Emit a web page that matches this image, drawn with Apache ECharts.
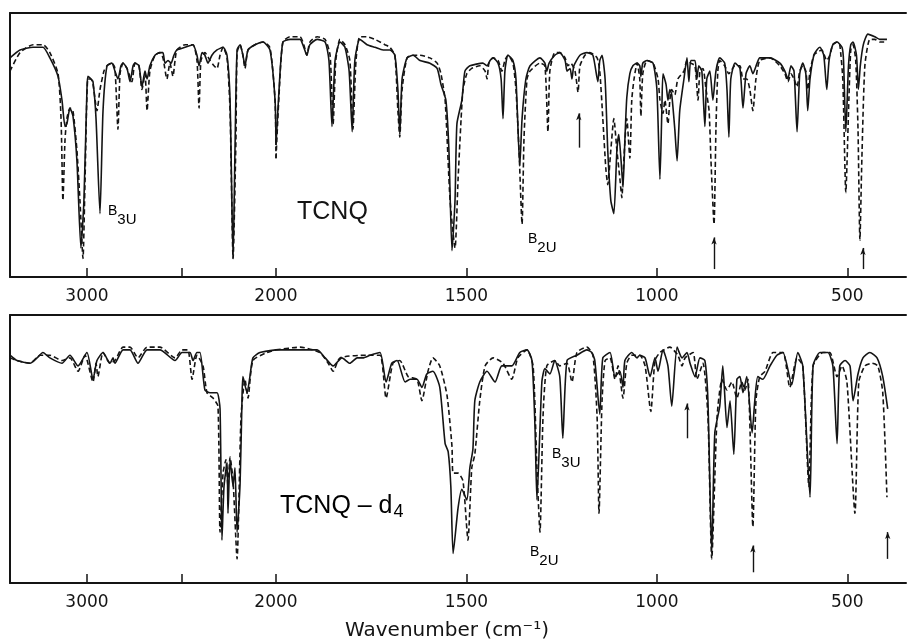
<!DOCTYPE html>
<html><head><meta charset="utf-8">
<script src="https://cdn.jsdelivr.net/npm/echarts@6/dist/echarts.min.js"></script>
<style>html,body{margin:0;padding:0;background:#fff}#c{width:908px;height:640px}</style>
</head><body><div id="c"></div>
<script>
// Wavenumber (cm-1), relative transmittance (% of frame height)
const tcnqSolid = [[3407,83],[3354,86],[3285,87],[3233,87],[3196,83],[3153,76],[3132,67],[3116,57],[3106,58],[3090,64],[3074,61],[3053,44],[3032,11],[3016,29],[3000,71],[2995,76],[2979,75],[2968,74],[2952,60],[2931,24],[2915,63],[2894,80],[2868,81],[2852,78],[2836,75],[2820,80],[2809,81],[2788,79],[2772,74],[2756,80],[2746,81],[2725,80],[2709,72],[2693,78],[2682,75],[2667,80],[2640,84],[2614,85],[2598,85],[2587,81],[2571,82],[2555,81],[2540,84],[2524,86],[2481,87],[2439,88],[2418,84],[2407,80],[2391,85],[2376,84],[2360,81],[2339,84],[2312,86],[2280,87],[2259,84],[2243,67],[2227,7],[2217,48],[2206,86],[2190,88],[2175,84],[2164,80],[2148,86],[2111,88],[2069,89],[2032,86],[2005,67],[2000,50],[1992,71],[1982,89],[1963,90],[1937,90],[1927,87],[1919,84],[1911,88],[1892,90],[1871,89],[1861,82],[1853,57],[1845,82],[1832,89],[1819,87],[1808,78],[1800,55],[1793,82],[1780,90],[1761,88],[1740,87],[1719,86],[1701,86],[1688,84],[1680,71],[1675,54],[1669,75],[1656,83],[1640,84],[1622,82],[1596,81],[1577,79],[1567,73],[1554,67],[1546,48],[1538,10],[1530,29],[1525,58],[1512,67],[1504,78],[1491,80],[1457,81],[1446,80],[1438,82],[1430,83],[1417,81],[1409,75],[1404,60],[1399,78],[1391,84],[1378,82],[1370,75],[1360,42],[1354,60],[1344,75],[1333,80],[1307,83],[1294,81],[1289,78],[1283,81],[1268,84],[1255,85],[1241,82],[1236,78],[1228,79],[1223,75],[1218,80],[1202,84],[1184,85],[1168,84],[1155,74],[1150,82],[1144,84],[1136,75],[1129,48],[1121,29],[1113,24],[1105,48],[1100,54],[1094,44],[1089,34],[1084,52],[1079,68],[1071,77],[1063,80],[1052,81],[1045,80],[1042,76],[1037,81],[1026,82],[1010,81],[1000,71],[992,37],[987,63],[984,77],[976,73],[971,67],[966,71],[961,69],[953,56],[947,44],[940,63],[929,75],[921,83],[916,74],[911,82],[900,82],[895,75],[890,80],[882,78],[874,57],[869,75],[861,78],[853,67],[845,78],[835,83],[822,81],[816,71],[811,53],[806,75],[795,81],[782,79],[774,64],[766,77],[756,80],[748,77],[737,81],[730,83],[703,83],[677,81],[664,78],[656,75],[648,80],[640,78],[632,55],[625,77],[617,81],[609,77],[604,63],[598,75],[588,84],[580,86],[572,87],[562,84],[554,71],[548,82],[538,88],[527,89],[514,87],[510,82],[504,55],[497,80],[491,88],[485,89],[476,84],[471,71],[466,80],[458,88],[446,92],[428,91],[415,90],[396,90]];
const tcnqDashed = [[3407,78],[3354,85],[3285,88],[3233,88],[3196,85],[3153,77],[3137,60],[3127,29],[3116,52],[3106,60],[3090,64],[3074,63],[3053,48],[3037,29],[3021,7],[3010,37],[2995,75],[2979,75],[2968,73],[2947,63],[2931,71],[2910,78],[2894,80],[2868,81],[2852,79],[2836,56],[2825,77],[2809,81],[2788,79],[2762,74],[2746,81],[2725,80],[2709,71],[2693,77],[2682,63],[2667,78],[2640,84],[2614,85],[2598,83],[2577,75],[2561,81],[2545,76],[2534,82],[2524,86],[2481,88],[2439,88],[2418,82],[2407,64],[2397,82],[2376,85],[2349,82],[2328,80],[2312,79],[2296,84],[2280,87],[2259,83],[2243,63],[2227,7],[2212,52],[2206,85],[2190,88],[2175,84],[2164,79],[2148,86],[2111,88],[2069,89],[2032,87],[2005,67],[2000,45],[1992,69],[1982,89],[1963,91],[1937,91],[1927,88],[1919,84],[1911,89],[1892,91],[1871,90],[1858,84],[1850,58],[1843,82],[1832,90],[1819,88],[1806,82],[1798,56],[1790,82],[1780,91],[1761,91],[1740,90],[1714,88],[1701,87],[1688,84],[1680,63],[1675,53],[1669,71],[1656,83],[1640,84],[1622,84],[1596,83],[1577,81],[1567,77],[1556,67],[1543,29],[1530,11],[1522,37],[1514,60],[1509,71],[1499,77],[1486,79],[1465,80],[1451,78],[1446,75],[1441,81],[1430,83],[1417,82],[1407,78],[1399,82],[1391,84],[1378,81],[1370,71],[1362,48],[1354,20],[1349,52],[1341,75],[1333,78],[1307,81],[1294,80],[1286,55],[1281,78],[1268,85],[1255,85],[1241,83],[1234,80],[1226,81],[1215,78],[1207,70],[1202,80],[1189,84],[1176,85],[1157,83],[1150,78],[1142,60],[1134,41],[1129,35],[1121,48],[1113,60],[1105,48],[1097,37],[1092,30],[1087,44],[1079,60],[1071,45],[1066,67],[1060,75],[1052,81],[1045,75],[1042,61],[1037,77],[1026,82],[1010,81],[997,75],[992,67],[984,62],[979,67],[971,58],[966,67],[961,71],[953,69],[945,75],[929,78],[921,82],[911,81],[900,80],[892,67],[887,78],[879,79],[871,71],[863,63],[858,44],[850,20],[845,56],[840,78],[835,82],[822,80],[811,77],[795,80],[782,80],[774,75],[764,75],[756,71],[748,63],[740,75],[730,82],[703,83],[677,80],[664,77],[656,74],[648,77],[640,75],[632,72],[625,78],[617,80],[609,78],[604,71],[598,78],[588,84],[580,85],[567,86],[554,82],[546,84],[538,88],[527,89],[520,88],[512,75],[504,32],[496,67],[491,86],[485,88],[478,82],[472,56],[467,14],[462,44],[454,80],[441,90],[428,90],[415,89],[396,89]];
const d4Solid = [[3407,85],[3370,83],[3301,82],[3264,84],[3233,86],[3196,84],[3132,82],[3090,85],[3047,81],[3000,86],[2968,76],[2947,83],[2915,86],[2878,82],[2862,84],[2852,82],[2809,87],[2772,87],[2730,82],[2682,87],[2614,87],[2534,83],[2497,86],[2455,86],[2439,83],[2418,86],[2402,86],[2376,72],[2349,71],[2312,71],[2296,65],[2286,16],[2275,36],[2259,45],[2254,26],[2243,46],[2227,36],[2217,43],[2206,19],[2190,37],[2180,68],[2175,77],[2153,71],[2138,77],[2122,84],[2085,86],[2000,87],[1937,87],[1892,87],[1871,84],[1850,81],[1827,84],[1806,82],[1787,84],[1772,84],[1753,85],[1727,86],[1711,75],[1696,82],[1682,83],[1661,75],[1648,76],[1630,76],[1617,73],[1604,78],[1588,79],[1570,73],[1556,52],[1548,49],[1541,36],[1535,11],[1522,28],[1512,35],[1499,31],[1491,43],[1483,50],[1478,68],[1465,75],[1446,79],[1425,75],[1407,81],[1381,81],[1360,86],[1341,87],[1328,83],[1320,58],[1315,31],[1302,75],[1294,80],[1281,78],[1268,83],[1255,77],[1247,54],[1236,83],[1210,85],[1184,87],[1171,86],[1163,83],[1150,63],[1142,84],[1123,86],[1110,77],[1097,79],[1089,73],[1084,83],[1066,86],[1052,84],[1045,85],[1031,84],[1018,77],[1005,84],[997,79],[984,87],[971,81],[961,66],[947,88],[934,84],[921,86],[913,82],[900,77],[887,84],[874,83],[866,68],[856,11],[848,56],[835,66],[827,81],[816,58],[808,68],[798,48],[790,76],[782,77],[774,71],[764,77],[750,56],[743,68],[735,77],[722,76],[703,81],[685,85],[669,86],[646,74],[630,86],[617,81],[598,32],[590,81],[572,86],[551,86],[538,81],[527,52],[520,81],[506,83],[493,81],[485,68],[472,78],[459,84],[441,86],[422,84],[407,77],[394,65]];
const d4Dashed = [[3407,84],[3370,83],[3301,82],[3248,85],[3196,85],[3132,83],[3090,84],[3047,79],[3010,85],[2968,75],[2952,82],[2942,77],[2915,86],[2878,82],[2852,83],[2809,88],[2772,88],[2730,84],[2682,88],[2614,88],[2534,84],[2497,87],[2466,87],[2444,76],[2418,85],[2386,81],[2365,71],[2333,69],[2307,66],[2296,19],[2280,41],[2265,46],[2254,36],[2243,47],[2227,38],[2206,9],[2185,62],[2164,76],[2148,69],[2122,83],[2048,86],[2000,87],[1937,88],[1885,86],[1863,82],[1850,79],[1832,84],[1761,85],[1727,85],[1711,69],[1693,82],[1675,83],[1653,77],[1630,76],[1617,68],[1601,79],[1588,84],[1570,81],[1551,70],[1538,51],[1535,41],[1522,41],[1509,38],[1496,16],[1486,43],[1478,48],[1465,68],[1451,81],[1430,84],[1404,82],[1381,76],[1365,84],[1341,87],[1325,81],[1315,43],[1307,19],[1299,62],[1289,81],[1268,83],[1255,81],[1236,82],[1223,75],[1210,86],[1184,88],[1168,85],[1157,62],[1152,26],[1144,68],[1136,83],[1123,84],[1110,76],[1102,81],[1089,69],[1079,82],[1066,85],[1045,85],[1031,81],[1016,64],[1005,83],[992,86],[966,88],[945,85],[934,81],[926,84],[905,86],[895,76],[879,82],[866,62],[856,9],[842,62],[829,76],[816,72],[803,75],[790,69],[777,75],[769,72],[761,76],[748,21],[740,68],[730,77],[716,79],[695,86],[669,86],[651,73],[632,84],[617,81],[601,36],[590,81],[564,86],[546,86],[527,77],[514,81],[501,75],[480,26],[470,75],[454,81],[436,82],[420,81],[407,71],[396,32]];

// arrows: [wavenumber, tail, head]
const arrowsTop = [[1205,49,62],[850,3,15],[459,3,11]];
const arrowsBottom = [[921,54,67],[748,4,14],[394,9,19]];

const highTicks = [2000, 2500, 3000];
const highLabels = [2000, 3000];
const lowTicks = [500, 1000, 1500];
const lowLabels = [500, 1000, 1500];
const xBreak = 2000, xHighMax = 3407, xLowMin = 346;

const INK = '#141414';
const chart = echarts.init(document.getElementById('c'), null, {renderer: 'canvas'});

const grids = [
  {left: 10, top: 13, width: 266, height: 264},
  {left: 276, top: 13, width: 630, height: 264},
  {left: 10, top: 315, width: 266, height: 268},
  {left: 276, top: 315, width: 630, height: 268}
];
const xAxes = [], yAxes = [];
grids.forEach((g, i) => {
  const high = (i % 2 === 0);
  const range = high ? {min: xBreak, max: xHighMax} : {min: xLowMin, max: xBreak};
  xAxes.push(Object.assign({
    type: 'value', gridIndex: i, position: 'bottom', inverse: true,
    axisLine: {show: true, onZero: false, lineStyle: {color: INK, width: 2}},
    axisTick: {show: true, inside: true, length: 9, customValues: high ? highTicks : lowTicks, lineStyle: {color: INK, width: 1.5}},
    axisLabel: {show: true, customValues: high ? highLabels : lowLabels, margin: 11, color: INK, fontFamily: 'DejaVu Sans', fontSize: 17, formatter: v => String(v)},
    splitLine: {show: false}
  }, range));
  xAxes.push(Object.assign({
    type: 'value', gridIndex: i, position: 'top', inverse: true,
    axisLine: {show: true, onZero: false, lineStyle: {color: INK, width: 2}},
    axisTick: {show: false}, axisLabel: {show: false}, splitLine: {show: false}
  }, range));
  yAxes.push({
    type: 'value', gridIndex: i, min: 0, max: 100, position: 'left',
    axisLine: {show: high, onZero: false, lineStyle: {color: INK, width: 2}},
    axisTick: {show: false}, axisLabel: {show: false}, splitLine: {show: false}
  });
});

function part(data, high) {
  return data.filter(p => high ? p[0] >= xBreak : p[0] <= xBreak);
}
function arrowLines(list) {
  return list.map(a => [{coord: [a[0], a[1]]}, {coord: [a[0], a[2]]}]);
}
const series = [];
const panels = [[tcnqSolid, tcnqDashed, arrowsTop], [d4Solid, d4Dashed, arrowsBottom]];
panels.forEach((pn, p) => {
  [true, false].forEach((high, h) => {
    const gi = p * 2 + h;
    series.push({
      type: 'line', xAxisIndex: gi * 2, yAxisIndex: gi, data: part(pn[0], high),
      showSymbol: false, smooth: 0.2, lineStyle: {color: INK, width: 1.6}, z: 3,
      markLine: high ? undefined : {
        silent: true, symbol: ['none', 'arrow'], symbolSize: [4, 7], animation: false,
        label: {show: false}, lineStyle: {color: INK, width: 1.4, type: 'solid'},
        data: arrowLines(pn[2])
      }
    });
    series.push({
      type: 'line', xAxisIndex: gi * 2, yAxisIndex: gi, data: part(pn[1], high),
      showSymbol: false, smooth: 0.2, lineStyle: {color: INK, width: 1.6, type: [5, 3]}, z: 2
    });
  });
});

const subRich = {
  b: {fontFamily: 'Liberation Sans', fontSize: 14, color: INK, lineHeight: 14, verticalAlign: 'top'},
  s: {fontFamily: 'Liberation Sans', fontSize: 15, color: INK, lineHeight: 15, padding: [8, 0, 0, 0], verticalAlign: 'top'}
};
function symLabel(x, y, sub) {
  return {type: 'text', x: x, y: y, z: 10, style: {text: '{b|B}{s|' + sub + '}', rich: subRich, textVerticalAlign: 'top'}};
}

chart.setOption({
  animation: false,
  backgroundColor: '#ffffff',
  grid: grids,
  xAxis: xAxes,
  yAxis: yAxes,
  series: series,
  graphic: [
    {type: 'text', x: 297, y: 200, style: {text: 'TCNQ', font: '25px "Liberation Sans"', fill: INK}},
    {type: 'text', x: 280, y: 494, style: {
      text: '{m|TCNQ – d}{s|4}',
      rich: {
        m: {fontFamily: 'Liberation Sans', fontSize: 25, color: INK, lineHeight: 25, verticalAlign: 'top'},
        s: {fontFamily: 'Liberation Sans', fontSize: 18, color: INK, lineHeight: 18, padding: [9, 0, 0, 1], verticalAlign: 'top'}
      }}},
    symLabel(108, 204, '3U'),
    symLabel(528, 232, '2U'),
    symLabel(552, 447, '3U'),
    symLabel(530, 545, '2U'),
    {type: 'text', x: 447, y: 631, style: {text: 'Wavenumber (cm⁻¹)', font: '20px "DejaVu Sans"', fill: INK, textAlign: 'center', textVerticalAlign: 'middle'}}
  ]
});
</script></body></html>
